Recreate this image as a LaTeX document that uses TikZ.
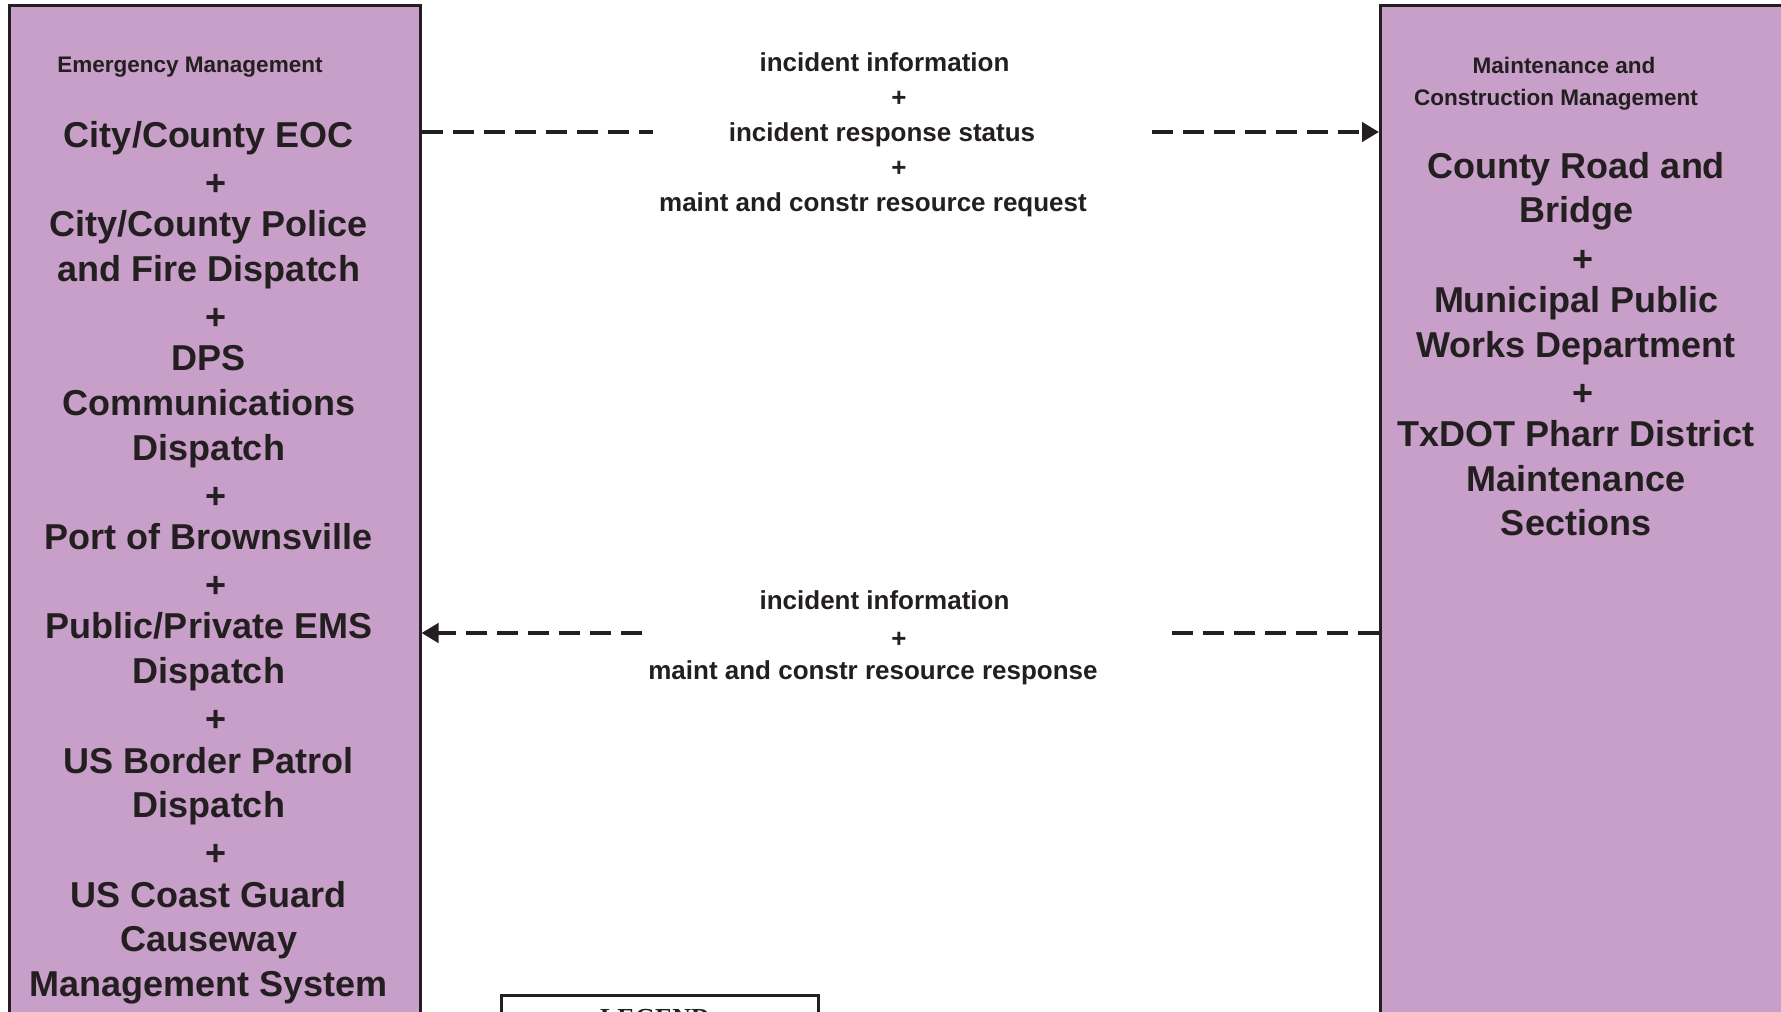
\documentclass[tikz,border=0pt]{standalone}
\usepackage{fontspec}
\setmainfont{Liberation Sans}
\newfontfamily\legendfont{Liberation Serif}
\usetikzlibrary{arrows.meta}
\definecolor{boxfill}{RGB}{199,159,200}
\definecolor{ink}{RGB}{35,31,32}
\newcommand{\joinplus}{\hspace*{14pt}\raisebox{-3.4pt}{+}}

\begin{document}
\begin{tikzpicture}[x=1pt, y=-1pt,
  sysbox/.style={draw=ink, line width=2.5pt, fill=boxfill, anchor=north west, inner sep=0pt},
  kind/.style={font=\fontsize{22.5}{31.5}\selectfont\bfseries, text=ink, align=center, anchor=north, inner sep=0pt},
  member/.style={font=\fontsize{36}{44.7}\selectfont\bfseries, text=ink, align=center, anchor=north, inner sep=0pt},
  flowtext/.style={font=\fontsize{26}{35}\selectfont\bfseries, text=ink, align=center, anchor=north, inner sep=0pt},
  flow/.style={draw=ink, line width=4.8pt, dash pattern=on 21pt off 10pt},
  tip/.style={-{Triangle[length=17pt, width=19pt]}}]
  \useasboundingbox (0,0) rectangle (1781,1012);
  \clip (0,0) rectangle (1781,1012);
  % ---------------------------------------------------------------- the two systems
  \node[sysbox, minimum width=411pt, minimum height=1100pt] (em) at (8,4) {};
  \node[sysbox, minimum width=500pt, minimum height=1100pt] (mc) at (1379,4) {};
  \node[kind] (emkind) at (190,57) {Emergency Management};
  \node[member] (emlist) at (209,121)
    {City/County EOC\\\joinplus\\City/County Police\\and Fire Dispatch\\\joinplus\\DPS\\Communications\\Dispatch\\\joinplus\\
     Port of Brownsville\\\joinplus\\Public/Private EMS\\Dispatch\\\joinplus\\US Border Patrol\\Dispatch\\\joinplus\\
     US Coast Guard\\Causeway\\Management System};
  \node[kind] (mckind) at (1556,57) {\hspace*{16pt}Maintenance and\\Construction Management};
  \node[member] (mclist) at (1576,152)
    {County Road and\\Bridge\\\joinplus\\Municipal Public\\Works Department\\\joinplus\\
     TxDOT Pharr District\\Maintenance\\Sections};
  % ---------------------------------------------------------------- flows, broken round their labels
  \node[flowtext] (req) at (873,52)
    {\hspace*{23pt}incident information\\\hspace*{52pt}+\\\hspace*{18pt}incident response status\\\hspace*{52pt}+\\
     maint and constr resource request};
  \coordinate (reqA) at (653,132);
  \coordinate (reqB) at (1152,132);
  \draw[flow] (reqA -| em.east) -- (reqA);
  \draw[flow, tip] (reqB) -- (reqB -| mc.west);
  \node[flowtext] (rsp) at (873,590)
    {\hspace*{23pt}incident information\\\hspace*{52pt}\raisebox{-3pt}{+}\\maint and constr resource response};
  \coordinate (rspA) at (642,633);
  \coordinate (rspB) at (1172,633);
  \draw[flow, tip] (rspA) -- (rspA -| em.east);
  \draw[flow] (rspB -| mc.west) -- (rspB);
  % ---------------------------------------------------------------- legend, cut off by the page edge
  \node[draw=ink, line width=2.7pt, anchor=north west, minimum width=317pt, minimum height=120pt, inner sep=0pt]
    (legend) at (500,994) {};
  \node[font=\legendfont\bfseries\fontsize{26}{30}\selectfont, text=ink, anchor=north, inner sep=0pt]
    (legendtitle) at (655,1009) {LEGEND};
\end{tikzpicture}
\end{document}
